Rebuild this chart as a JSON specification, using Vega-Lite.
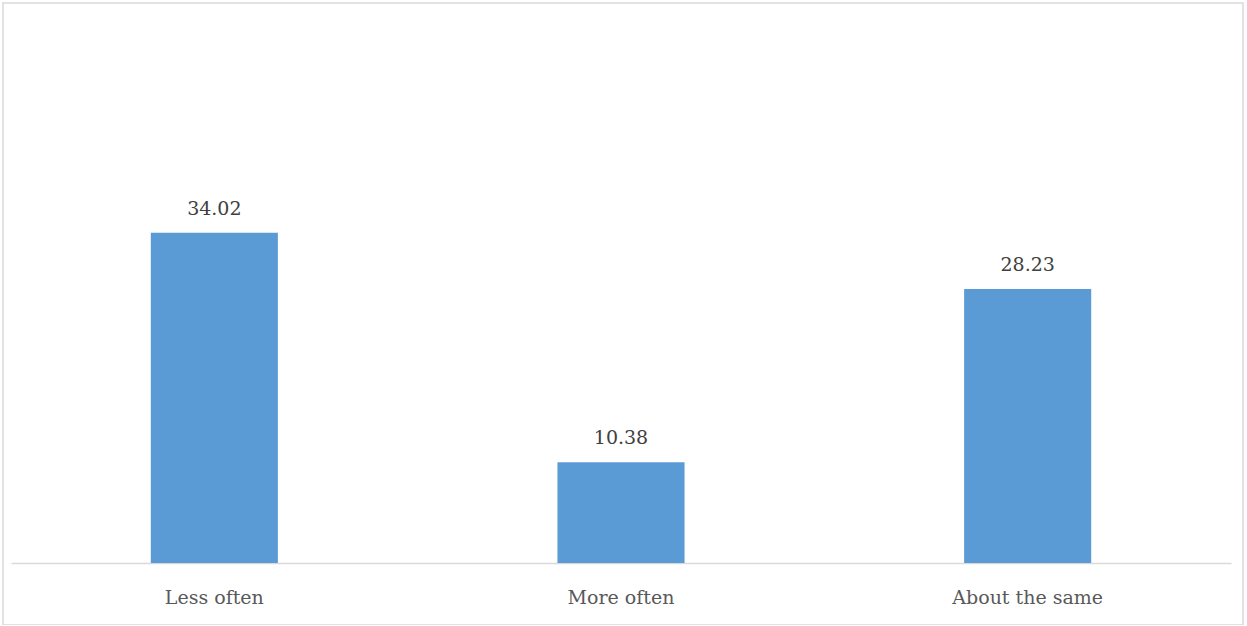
{
  "$schema": "https://vega.github.io/schema/vega-lite/v6.json",
  "autosize": {"type": "none"},
  "padding": {"left": 3, "top": 3, "right": 4, "bottom": 0},
  "width": 1240,
  "height": 622,
  "background": "white",
  "config": {
    "view": {"stroke": "#d9d9d9", "strokeWidth": 1.5},
    "font": "DejaVu Serif"
  },
  "data": {
    "values": [
      {"category": "Less often", "value": 34.02},
      {"category": "More often", "value": 10.38},
      {"category": "About the same", "value": 28.23}
    ]
  },
  "encoding": {
    "x": {
      "field": "category",
      "type": "nominal",
      "sort": null,
      "scale": {"range": [8, 1228], "paddingInner": 0.6875, "paddingOuter": 0.34375},
      "axis": {
        "title": null,
        "labelAngle": 0,
        "ticks": false,
        "offset": -62,
        "domainColor": "#d9d9d9",
        "domainWidth": 1.5,
        "labelFont": "DejaVu Serif",
        "labelFontSize": 19,
        "labelColor": "#595959",
        "labelPadding": 25
      }
    },
    "y": {
      "field": "value",
      "type": "quantitative",
      "scale": {"domain": [0, 57.7], "range": [560, 0]},
      "axis": null
    }
  },
  "layer": [
    {"mark": {"type": "bar", "color": "#5b9bd5"}},
    {
      "mark": {
        "type": "text",
        "baseline": "alphabetic",
        "dy": -18,
        "font": "DejaVu Serif",
        "fontSize": 19,
        "color": "#404040"
      },
      "encoding": {"text": {"field": "value", "type": "quantitative", "format": ".2f"}}
    }
  ]
}
